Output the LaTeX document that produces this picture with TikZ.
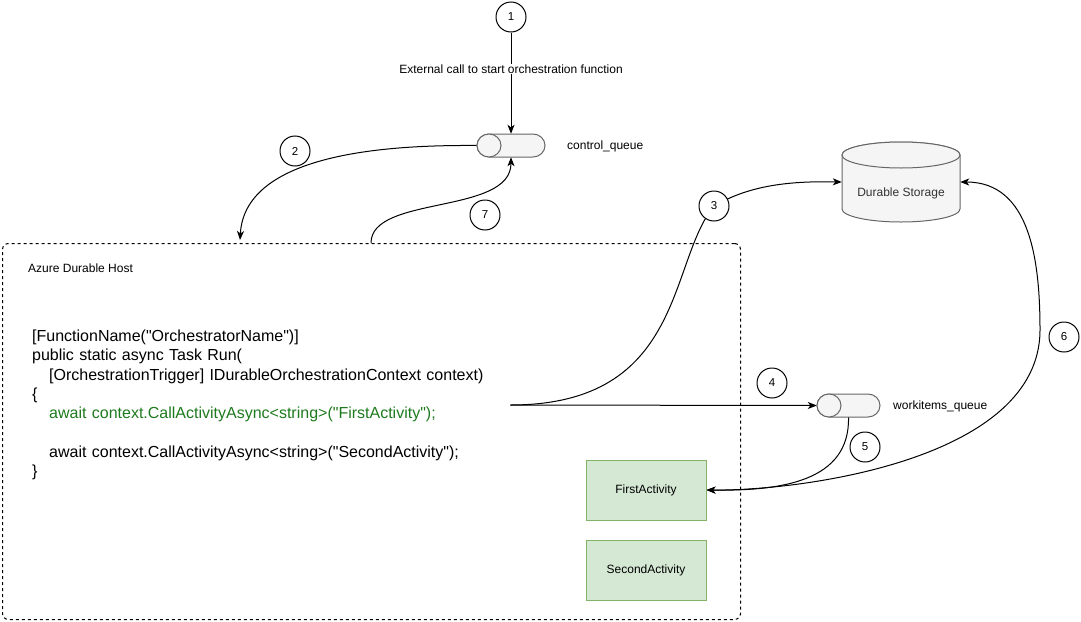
\documentclass[tikz,border=0pt]{standalone}
\usepackage{fontspec}
\setmainfont{Liberation Sans}
\usetikzlibrary{arrows.meta,backgrounds}
\definecolor{codegreen}{HTML}{1E7A1E}
\definecolor{actfill}{HTML}{D5E8D4}
\definecolor{actline}{HTML}{82B366}
\definecolor{cylline}{HTML}{666666}
\definecolor{cylfill}{HTML}{F5F5F5}
\definecolor{cyltext}{HTML}{333333}
\newcommand{\dq}{\textquotedbl}
\begin{document}
\begin{tikzpicture}[x=1pt,y=-1pt,
  every node/.style={font=\fontsize{12}{14}\selectfont},
  num/.style={draw, circle, minimum size=30pt, inner sep=0pt, fill=white, line width=1pt, font=\fontsize{11.5}{14}\selectfont},
  conn/.style={draw, line width=1pt, -{Stealth[length=9pt,width=7pt,inset=2.5pt]}},
  cyl/.style={draw=cylline, fill=cylfill, line width=1pt},
  anchorbox/.style={shape=rectangle, inner sep=0pt},
  act/.style={draw=actline, fill=actfill, line width=1pt, minimum width=120pt, minimum height=60pt, inner sep=0pt, font=\fontsize{12}{14}\selectfont},
]
\useasboundingbox (0,0) rectangle (1081,621);

% host box
\node[draw, dash pattern=on 3pt off 3pt, line width=1pt, rounded corners=6pt,
      minimum width=738pt, minimum height=376pt, inner sep=0pt, anchor=north west] (host) at (2,243) {};
\node[anchor=west, inner sep=0pt] (hostl) at (28,268) {Azure Durable Host};

% code
\node[anchor=west, text width=478pt, inner sep=0pt, align=left,
      font=\fontsize{16}{19.3}\selectfont] (code) at (32,405)
{[FunctionName(\dq OrchestratorName\dq)]\\
public static async Task Run(\\
\hspace*{17pt}[OrchestrationTrigger] IDurableOrchestrationContext context)\\
\{\\
{\color{codegreen}\hspace*{17pt}await context.CallActivityAsync<string>(\dq FirstActivity\dq);}\\[19.3pt]
\hspace*{17pt}await context.CallActivityAsync<string>(\dq SecondActivity\dq);\\
\}};

% control queue
\node[anchorbox, minimum width=68pt, minimum height=23pt] (cq) at (511,145.5) {};
\draw[cyl] (489,134) -- (533,134) arc[start angle=90,end angle=-90,x radius=12pt,y radius=11.5pt]
  -- (489,157) arc[start angle=270,end angle=90,x radius=12pt,y radius=11.5pt] -- cycle;
\draw[cyl] (489,145.5) ellipse[x radius=12pt,y radius=11.5pt];
\node[anchor=west, inner sep=0pt] (cql) at (567,146) {control\_queue};

% workitems queue
\node[anchorbox, minimum width=63pt, minimum height=23pt] (wq) at (848.5,405.5) {};
\draw[cyl] (829,394) -- (868,394) arc[start angle=90,end angle=-90,x radius=12pt,y radius=11.5pt]
  -- (829,417) arc[start angle=270,end angle=90,x radius=12pt,y radius=11.5pt] -- cycle;
\draw[cyl] (829,405.5) ellipse[x radius=12pt,y radius=11.5pt];
\node[anchor=west, inner sep=0pt] (wql) at (893,406) {workitems\_queue};

% durable storage
\node[anchorbox, minimum width=118pt, minimum height=80pt] (ds) at (901,182) {};
\draw[cyl] (842,155) -- (842,209) arc[start angle=180,end angle=360,x radius=59pt,y radius=13pt]
  -- (960,155) arc[start angle=0,end angle=180,x radius=59pt,y radius=13pt] -- cycle;
\draw[cyl] (901,155) ellipse[x radius=59pt,y radius=13pt];
\node[text=cyltext] (dsl) at (901,193) {Durable Storage};

% activities
\node[act] (fa) at (646,490) {FirstActivity};
\node[act] (sa) at (646,570) {SecondActivity};

% numbers
\node[num] (n1) at (511,17) {1};
\node[num] (n2) at (295,151) {2};
\node[num] (n3) at (714,206) {3};
\node[num] (n4) at (772,383) {4};
\node[num] (n5) at (865,447) {5};
\node[num] (n6) at (1064,337) {6};
\node[num] (n7) at (485,215) {7};

\coordinate (a2end) at (240,240);
\coordinate (a7start) at (371,243);

\begin{scope}[on background layer]
  \draw[conn] (n1) -- (cq.north);
  \draw[conn] (cq.west) .. controls (400,145) and (245,150) .. (a2end);
  \draw[conn] (a7start) .. controls (371,195) and (511,215) .. (cq.south);
  \draw[conn] (code.east) .. controls (685,405) and (668,262) .. (n3.center)
     .. controls (750,185) and (790,181) .. (ds.west);
  \draw[conn] (code.east) -- (wq.west);
  \draw[conn] (wq.south) .. controls (850,482) and (780,491) .. (fa.east);
  \draw[line width=1pt, {Stealth[length=9pt,width=7pt,inset=2.5pt]}-{Stealth[length=9pt,width=7pt,inset=2.5pt]}]
     (ds.east) .. controls (1030,182) and (1040,260) .. (1040,330)
     .. controls (1040,460) and (800,491) .. (fa.east);
\end{scope}

\node[fill=white, inner sep=1pt] (l1) at (511,69) {External call to start orchestration function};
\end{tikzpicture}
\end{document}
